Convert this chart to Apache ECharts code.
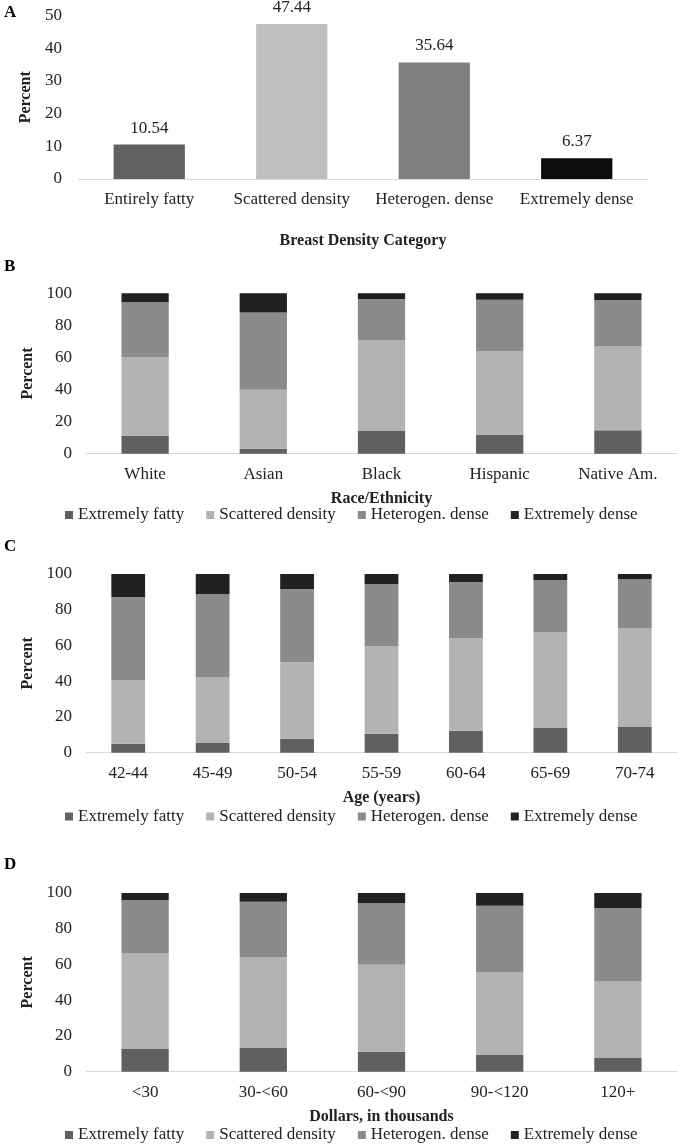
<!DOCTYPE html>
<html>
<head>
<meta charset="utf-8">
<script src="https://cdn.jsdelivr.net/npm/echarts@6/dist/echarts.min.js"></script>
<style>
html,body{margin:0;padding:0;background:#fff;}
#chart{width:680px;height:1147px;}
</style>
</head>
<body>
<div id="chart"></div>
<script>
// ---- Data ----
var densityCategories = ['Entirely fatty', 'Scattered density', 'Heterogen. dense', 'Extremely dense'];
var densityPercent = [10.54, 47.44, 35.64, 6.37];

var legendNames = ['Extremely fatty', 'Scattered density', 'Heterogen. dense', 'Extremely dense'];

var raceCategories = ['White', 'Asian', 'Black', 'Hispanic', 'Native Am.'];
var raceFatty = [11.2, 3.1, 14.1, 11.6, 14.6];
var raceScattered = [48.9, 36.8, 56.4, 52.4, 52.6];
var raceHetero = [34.3, 48.2, 26.0, 32.0, 28.6];
var raceDense = [5.6, 11.9, 3.5, 4.0, 4.2];

var ageCategories = ['42-44', '45-49', '50-54', '55-59', '60-64', '65-69', '70-74'];
var ageFatty = [5.0, 5.4, 7.8, 10.6, 12.3, 13.8, 14.6];
var ageScattered = [35.7, 37.0, 42.8, 49.1, 51.9, 53.7, 55.2];
var ageHetero = [46.4, 46.2, 41.0, 34.7, 31.3, 29.0, 27.2];
var ageDense = [12.9, 11.4, 8.4, 5.6, 4.5, 3.5, 3.0];

var incomeCategories = ['<30', '30-<60', '60-<90', '90-<120', '120+'];
var incomeFatty = [12.7, 13.2, 11.2, 9.3, 7.6];
var incomeScattered = [53.5, 51.0, 48.7, 46.5, 43.1];
var incomeHetero = [29.7, 30.9, 34.3, 37.1, 40.7];
var incomeDense = [4.1, 4.9, 5.8, 7.1, 8.6];

// ---- Styles ----
var FONT = 'Liberation Serif';
var TXT = '#222';
var colorsA = ['#616161', '#bfbfbf', '#7f7f7f', '#0c0c0c'];
var colorsStack = ['#606060', '#b3b3b3', '#8b8b8b', '#212121'];

var panels = [
  { cats: raceCategories, layers: [raceFatty, raceScattered, raceHetero, raceDense], name: 'Race/Ethnicity',
    grid: { left: 86, width: 591, top: 293.3, height: 160.4 }, legendTop: 501.5 },
  { cats: ageCategories, layers: [ageFatty, ageScattered, ageHetero, ageDense], name: 'Age (years)',
    grid: { left: 86, width: 591, top: 574, height: 178.7 }, legendTop: 803 },
  { cats: incomeCategories, layers: [incomeFatty, incomeScattered, incomeHetero, incomeDense], name: 'Dollars, in thousands',
    grid: { left: 86, width: 591, top: 893, height: 178.7 }, legendTop: 1121.5 }
];

var grids = [{ left: 78, width: 570, top: 15.6, height: 163.4 }];
var xAxes = [{
  type: 'category', gridIndex: 0, data: densityCategories,
  axisLine: { lineStyle: { color: '#d9d9d9', width: 1 } },
  axisTick: { show: false },
  axisLabel: { fontFamily: FONT, fontSize: 17, color: TXT, margin: 12, interval: 0 },
  name: 'Breast Density Category', nameLocation: 'middle', nameGap: 54,
  nameTextStyle: { fontFamily: FONT, fontSize: 16, fontWeight: 'bold', color: TXT }
}];
var yAxes = [{
  type: 'value', gridIndex: 0, min: 0, max: 50, interval: 10,
  axisLine: { show: false }, axisTick: { show: false }, splitLine: { show: false },
  axisLabel: { fontFamily: FONT, fontSize: 17, color: TXT, margin: 16 },
  name: 'Percent', nameLocation: 'middle', nameGap: 38,
  nameTextStyle: { fontFamily: FONT, fontSize: 16, fontWeight: 'bold', color: TXT }
}];
var series = [{
  type: 'bar', name: 'Breast density', xAxisIndex: 0, yAxisIndex: 0, barWidth: '50%',
  data: densityPercent.map(function (v, i) { return { value: v, itemStyle: { color: colorsA[i] } }; }),
  label: { show: true, position: 'top', distance: 8, fontFamily: FONT, fontSize: 17, color: TXT,
    formatter: function (p) { return p.value.toFixed(2); } }
}];
var legends = [];

panels.forEach(function (p, idx) {
  var gi = idx + 1;
  grids.push(p.grid);
  xAxes.push({
    type: 'category', gridIndex: gi, data: p.cats,
    axisLine: { lineStyle: { color: '#d9d9d9', width: 1 } },
    axisTick: { show: false },
    axisLabel: { fontFamily: FONT, fontSize: 17, color: TXT, margin: 12, interval: 0 },
    name: p.name, nameLocation: 'middle', nameGap: 37,
    nameTextStyle: { fontFamily: FONT, fontSize: 16, fontWeight: 'bold', color: TXT }
  });
  yAxes.push({
    type: 'value', gridIndex: gi, min: 0, max: 100, interval: 20,
    axisLine: { show: false }, axisTick: { show: false }, splitLine: { show: false },
    axisLabel: { fontFamily: FONT, fontSize: 17, color: TXT, margin: 14 },
    name: 'Percent', nameLocation: 'middle', nameGap: 47,
    nameTextStyle: { fontFamily: FONT, fontSize: 16, fontWeight: 'bold', color: TXT }
  });
  p.layers.forEach(function (arr, k) {
    series.push({
      type: 'bar', name: legendNames[k], xAxisIndex: gi, yAxisIndex: gi, stack: 'stack' + gi,
      barWidth: '40%', itemStyle: { color: colorsStack[k] }, data: arr
    });
  });
  legends.push({
    data: legendNames, left: 60, top: p.legendTop, itemWidth: 8, itemHeight: 8, itemGap: 22,
    icon: 'rect', selectedMode: false,
    textStyle: { fontFamily: FONT, fontSize: 17, color: TXT }
  });
});

var letters = [['A', 13], ['B', 267], ['C', 547], ['D', 865]];
var graphics = letters.map(function (l) {
  return { type: 'text', left: 4, top: l[1] - 9,
    style: { text: l[0], font: 'bold 17px "' + FONT + '"', fill: '#000' } };
});

var chart = echarts.init(document.getElementById('chart'), null, { renderer: 'canvas' });
chart.setOption({
  animation: false,
  backgroundColor: '#fff',
  grid: grids,
  xAxis: xAxes,
  yAxis: yAxes,
  legend: legends,
  graphic: graphics,
  series: series
});
</script>
</body>
</html>
